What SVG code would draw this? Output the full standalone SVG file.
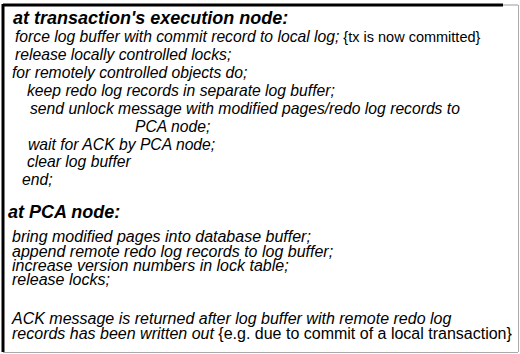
<svg xmlns="http://www.w3.org/2000/svg" width="520" height="354" viewBox="0 0 520 354">
<style>
text{font-family:"Liberation Sans",Arial,Helvetica,sans-serif;fill:#000}
.h{font-size:18px;font-weight:bold;font-style:italic}
.t{font-size:15.7px;font-style:italic}
.b{font-size:16px;font-style:italic}
.u{font-style:normal}
.s{font-size:14.5px}
</style>
<rect width="520" height="354" fill="#fff"/>
<g id="frame">
<line x1="3" y1="5" x2="503" y2="5" stroke="#000" stroke-width="3"/>
<line x1="503" y1="5" x2="518" y2="5" stroke="#999" stroke-width="1"/>
<line x1="3" y1="4" x2="3" y2="352" stroke="#000" stroke-width="3"/>
<line x1="518.5" y1="5" x2="518.5" y2="352" stroke="#aaa" stroke-width="1"/>
<line x1="3" y1="352.5" x2="518" y2="352.5" stroke="#aaa" stroke-width="1"/>
</g>
<g id="exec-node">
<text class="h" x="13" y="24">at transaction's execution node:</text>
<text class="t" x="15" y="42">force log buffer with commit record to local log;<tspan class="u s"> {tx is now committed}</tspan></text>
<text class="t" x="15" y="60">release locally controlled locks;</text>
<text class="t" x="12" y="78">for remotely controlled objects do;</text>
<text class="t" x="27" y="96">keep redo log records in separate log buffer;</text>
<text class="t" x="30" y="114">send unlock message with modified pages/redo log records to</text>
<text class="t" x="135" y="132">PCA node;</text>
<text class="t" x="28" y="150">wait for ACK by PCA node;</text>
<text class="t" x="27" y="167">clear log buffer</text>
<text class="t" x="22" y="185">end;</text>
</g>
<g id="pca-node">
<text class="h" x="8" y="218">at PCA node:</text>
<text class="b" x="12" y="242">bring modified pages into database buffer;</text>
<text class="b" x="12" y="257">append remote redo log records to log buffer;</text>
<text class="b" x="12" y="271">increase version numbers in lock table;</text>
<text class="b" x="12" y="285">release locks;</text>
<text class="b" x="12" y="324">ACK message is returned after log buffer with remote redo log</text>
<text class="b" x="12" y="339">records has been written out  <tspan class="u">{e.g. due to commit of a local transaction}</tspan></text>
</g>
</svg>
